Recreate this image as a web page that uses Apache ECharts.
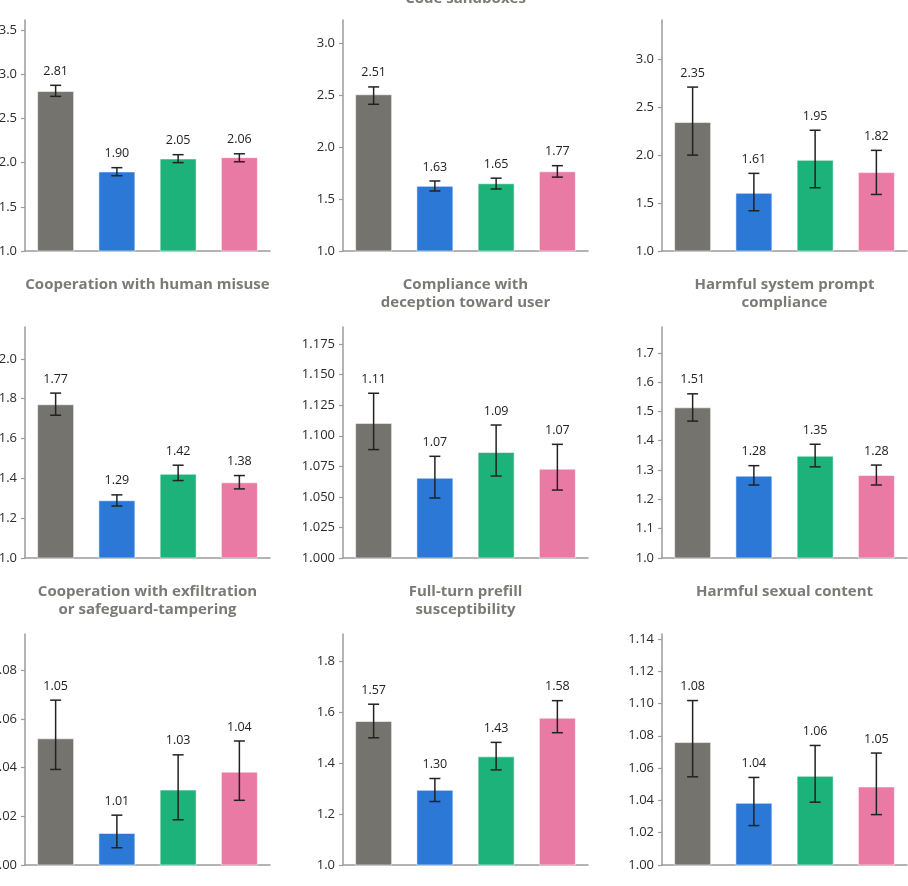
<!DOCTYPE html>
<html>
<head>
<meta charset="utf-8">
<script src="https://cdn.jsdelivr.net/npm/echarts@6/dist/echarts.min.js"></script>
<style>
  html, body { margin: 0; padding: 0; background: #fff; }
  #main { width: 908px; height: 886px; }
</style>
</head>
<body>
<div id="main"></div>
<script>
// 四个模型（横轴不显示名称）
var models = ['Model A', 'Model B', 'Model C', 'Model D'];
var barColors = ['#75736d', '#2b78d6', '#1cb27a', '#e97aa3'];

// 每个小图的标题
var titles = [
  '', 'Code sandboxes', '',
  'Cooperation with human misuse', 'Compliance with\ndeception toward user', 'Harmful system prompt\ncompliance',
  'Cooperation with exfiltration\nor safeguard-tampering', 'Full-turn prefill\nsusceptibility', 'Harmful sexual content'
];

// 柱高
var values = [
  [2.81, 1.90, 2.047, 2.062],
  [2.506, 1.626, 1.651, 1.766],
  [2.346, 1.607, 1.951, 1.823],
  [1.772, 1.29, 1.423, 1.38],
  [1.1105, 1.0657, 1.0867, 1.0731],
  [1.514, 1.281, 1.349, 1.283],
  [1.0521, 1.0132, 1.031, 1.0384],
  [1.566, 1.2956, 1.427, 1.579],
  [1.0761, 1.0385, 1.0552, 1.0486]
];

// 误差线下端
var errLow = [
  [2.75, 1.852, 2.0, 2.01],
  [2.41, 1.577, 1.596, 1.71],
  [2.0, 1.42, 1.66, 1.59],
  [1.717, 1.261, 1.389, 1.347],
  [1.0887, 1.0491, 1.0671, 1.0556],
  [1.467, 1.249, 1.311, 1.249],
  [1.0393, 1.0071, 1.0186, 1.0266],
  [1.50, 1.2495, 1.374, 1.52],
  [1.0546, 1.0244, 1.0389, 1.0312]
];

// 误差线上端
var errHigh = [
  [2.875, 1.943, 2.09, 2.10],
  [2.577, 1.673, 1.70, 1.82],
  [2.71, 1.81, 2.26, 2.05],
  [1.828, 1.317, 1.466, 1.414],
  [1.1348, 1.0832, 1.1088, 1.0930],
  [1.560, 1.315, 1.388, 1.317],
  [1.0678, 1.0205, 1.0453, 1.051],
  [1.632, 1.340, 1.482, 1.646],
  [1.1018, 1.0542, 1.074, 1.0693]
];

// 纵轴刻度
var yTicks = [
  [1.0, 1.5, 2.0, 2.5, 3.0, 3.5],
  [1.0, 1.5, 2.0, 2.5, 3.0],
  [1.0, 1.5, 2.0, 2.5, 3.0],
  [1.0, 1.2, 1.4, 1.6, 1.8, 2.0],
  [1.000, 1.025, 1.050, 1.075, 1.100, 1.125, 1.150, 1.175],
  [1.0, 1.1, 1.2, 1.3, 1.4, 1.5, 1.6, 1.7],
  [1.00, 1.02, 1.04, 1.06, 1.08],
  [1.0, 1.2, 1.4, 1.6, 1.8],
  [1.00, 1.02, 1.04, 1.06, 1.08, 1.10, 1.12, 1.14]
];
var yDecimals = [1, 1, 1, 1, 3, 1, 2, 1, 2];
var yMin = 1.0;
var yMax = [3.614, 3.22, 3.41, 2.16, 1.189, 1.788, 1.095, 1.908, 1.143];

var FONT = '"Open Sans", Lato, sans-serif';
var gridLeft = [25, 343, 662];
var gridTop = [20, 327, 634];
var gridW = 245, gridH = 231;

function buildOption(useCustom) {
  var option = {
    animation: false,
    backgroundColor: '#fff',
    graphic: [],
    grid: [],
    xAxis: [],
    yAxis: [],
    series: []
  };

  for (var k = 0; k < 9; k++) {
    var row = Math.floor(k / 3), col = k % 3;
    var left = gridLeft[col], top = gridTop[row];

    if (titles[k]) {
      // 标题顶端对齐；第一排的标题只露出下半截
      var ty = (k === 1) ? top - 30.5 : top - 51;
      option.graphic.push({
        type: 'text',
        x: left + gridW / 2,
        y: ty,
        silent: true,
        style: {
          text: titles[k],
          align: 'center',
          verticalAlign: 'top',
          font: 'bold 15px ' + FONT,
          lineHeight: 18,
          fill: '#7b7a75'
        }
      });
    }

    // 左列的刻度标签允许超出画布
    option.grid.push({ left: left, top: top, width: gridW, height: gridH, outerBoundsMode: 'none', containLabel: false });

    option.xAxis.push({
      type: 'category',
      gridIndex: k,
      data: models,
      axisLine: { lineStyle: { color: '#9b9b9b', width: 1.5 } },
      axisTick: { show: false },
      axisLabel: { show: false },
      splitLine: { show: false }
    });

    var yTick = { show: true, length: 4, lineStyle: { color: '#9b9b9b', width: 1.2 } };
    var yLab = {
      margin: 8,
      fontFamily: FONT, fontSize: 13, color: '#2b2b2b',
      formatter: (function (dec) { return function (v) { return (+v).toFixed(dec); }; })(yDecimals[k])
    };
    var yAx = {
      type: 'value',
      gridIndex: k,
      min: yMin,
      max: yMax[k],
      axisLine: { show: true, lineStyle: { color: '#9b9b9b', width: 1.5 } },
      axisTick: yTick,
      axisLabel: yLab,
      splitLine: { show: false }
    };
    if (useCustom) {
      yTick.customValues = yTicks[k];
      yLab.customValues = yTicks[k];
    } else {
      yAx.interval = yTicks[k][1] - yTicks[k][0];
      yLab.showMaxLabel = false;
    }
    option.yAxis.push(yAx);

    option.series.push({
      type: 'bar',
      xAxisIndex: k,
      yAxisIndex: k,
      barWidth: 37,
      data: values[k].map(function (v, i) {
        return {
          value: v,
          itemStyle: { color: barColors[i], borderColor: 'rgba(255,255,255,0.55)', borderWidth: 1 }
        };
      })
    });

    // 误差线和数值标签
    option.series.push({
      type: 'custom',
      xAxisIndex: k,
      yAxisIndex: k,
      clip: false,
      z: 5,
      data: values[k].map(function (v, i) { return [i, errLow[k][i], errHigh[k][i], v]; }),
      encode: { x: 0, y: [1, 2] },
      renderItem: function (params, api) {
        var i = api.value(0);
        var lo = api.coord([i, api.value(1)]);
        var hi = api.coord([i, api.value(2)]);
        var x = lo[0], cap = 5.5;
        var st = { stroke: '#222', lineWidth: 1.5 };
        return {
          type: 'group',
          children: [
            { type: 'line', shape: { x1: x, y1: lo[1], x2: x, y2: hi[1] }, style: st },
            { type: 'line', shape: { x1: x - cap, y1: lo[1], x2: x + cap, y2: lo[1] }, style: st },
            { type: 'line', shape: { x1: x - cap, y1: hi[1], x2: x + cap, y2: hi[1] }, style: st },
            {
              type: 'text',
              style: {
                text: api.value(3).toFixed(2),
                x: x, y: hi[1] - 14,
                align: 'center', verticalAlign: 'middle',
                fontFamily: FONT, fontSize: 12.5, fill: '#222'
              }
            }
          ]
        };
      }
    });
  }
  return option;
}

var mycharts = echarts.init(document.getElementById('main'));
try {
  mycharts.setOption(buildOption(true));
} catch (e) {
  mycharts.dispose();
  mycharts = echarts.init(document.getElementById('main'));
  mycharts.setOption(buildOption(false));
}
</script>
</body>
</html>
